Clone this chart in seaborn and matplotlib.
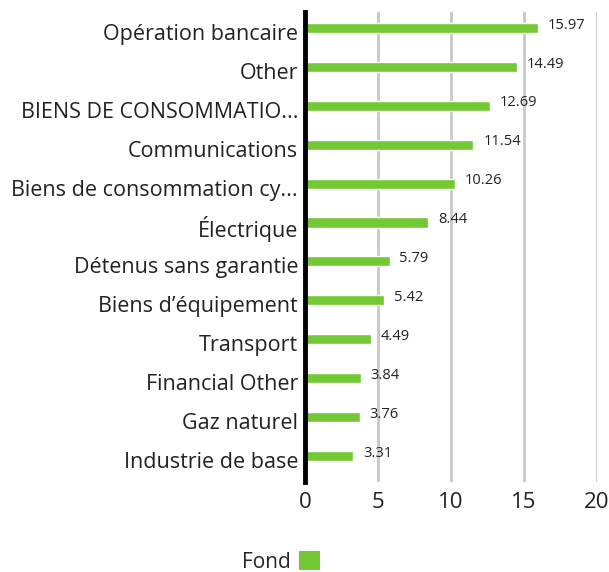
import matplotlib
matplotlib.use("Agg")
import matplotlib.pyplot as plt
import matplotlib.transforms as mtransforms
import seaborn as sns
import pandas as pd
from matplotlib.patches import Patch

categories = ["Opération bancaire", "Other", "BIENS DE CONSOMMATIO...",
              "Communications", "Biens de consommation cy...", "Électrique",
              "Détenus sans garantie", "Biens d’équipement", "Transport",
              "Financial Other", "Gaz naturel", "Industrie de base"]
values = [15.97, 14.49, 12.69, 11.54, 10.26, 8.44, 5.79, 5.42, 4.49, 3.84, 3.76, 3.31]
series_name = "Fond"
xticks = [0, 5, 10, 15, 20]

df = pd.DataFrame({"cat": categories, "val": values})

sns.set_theme(style="white")
plt.rcParams['font.family'] = ['Open Sans', 'DejaVu Sans']

color = "#73C935"
fig = plt.figure(figsize=(6.09, 5.72), dpi=100)
ax = fig.add_axes([305/609, 1-482/572, (597-305)/609, (482-12)/572])

for x in xticks[1:]:
    ax.axvline(x, color="#c8c8c8", lw=2, zorder=0)

sns.barplot(data=df, x="val", y="cat", orient="h", color=color, width=0.26,
            saturation=1, ax=ax, zorder=2)

for i, v in enumerate(values):
    ax.annotate(f"{v:.2f}", (v, i), xytext=(7, 2), textcoords="offset points",
                va="center", ha="left", fontsize=10.5, color="#222222")

ax.set_xlim(0, 20)
ax.set_ylim(11.67, -0.41)
ax.set_xticks(xticks)
ax.set_xticklabels([str(t) for t in xticks], fontsize=16, color="#222222")
ax.tick_params(axis="y", labelsize=15.5, colors="#222222", length=0, pad=5)
ax.tick_params(axis="x", length=0, pad=7)
ax.set_xlabel("")
ax.set_ylabel("")
for s in ["top", "right", "bottom"]:
    ax.spines[s].set_visible(False)
ax.spines["left"].set_linewidth(3.5)
ax.spines["left"].set_color("black")
ax.spines["left"].set_zorder(5)

offset = mtransforms.ScaledTranslation(0, -4/100, fig.dpi_scale_trans)
for lbl in ax.get_yticklabels():
    lbl.set_transform(lbl.get_transform() + offset)

handles = [Patch(facecolor=color, edgecolor="none")]
fig.legend(handles, [series_name], loc="center", bbox_to_anchor=(281/609, 1-562/572),
           frameon=False, fontsize=15, handlelength=1.0, handleheight=1.0,
           markerfirst=False, handletextpad=0.4, borderpad=0)

fig.savefig("out.png", dpi=100)
